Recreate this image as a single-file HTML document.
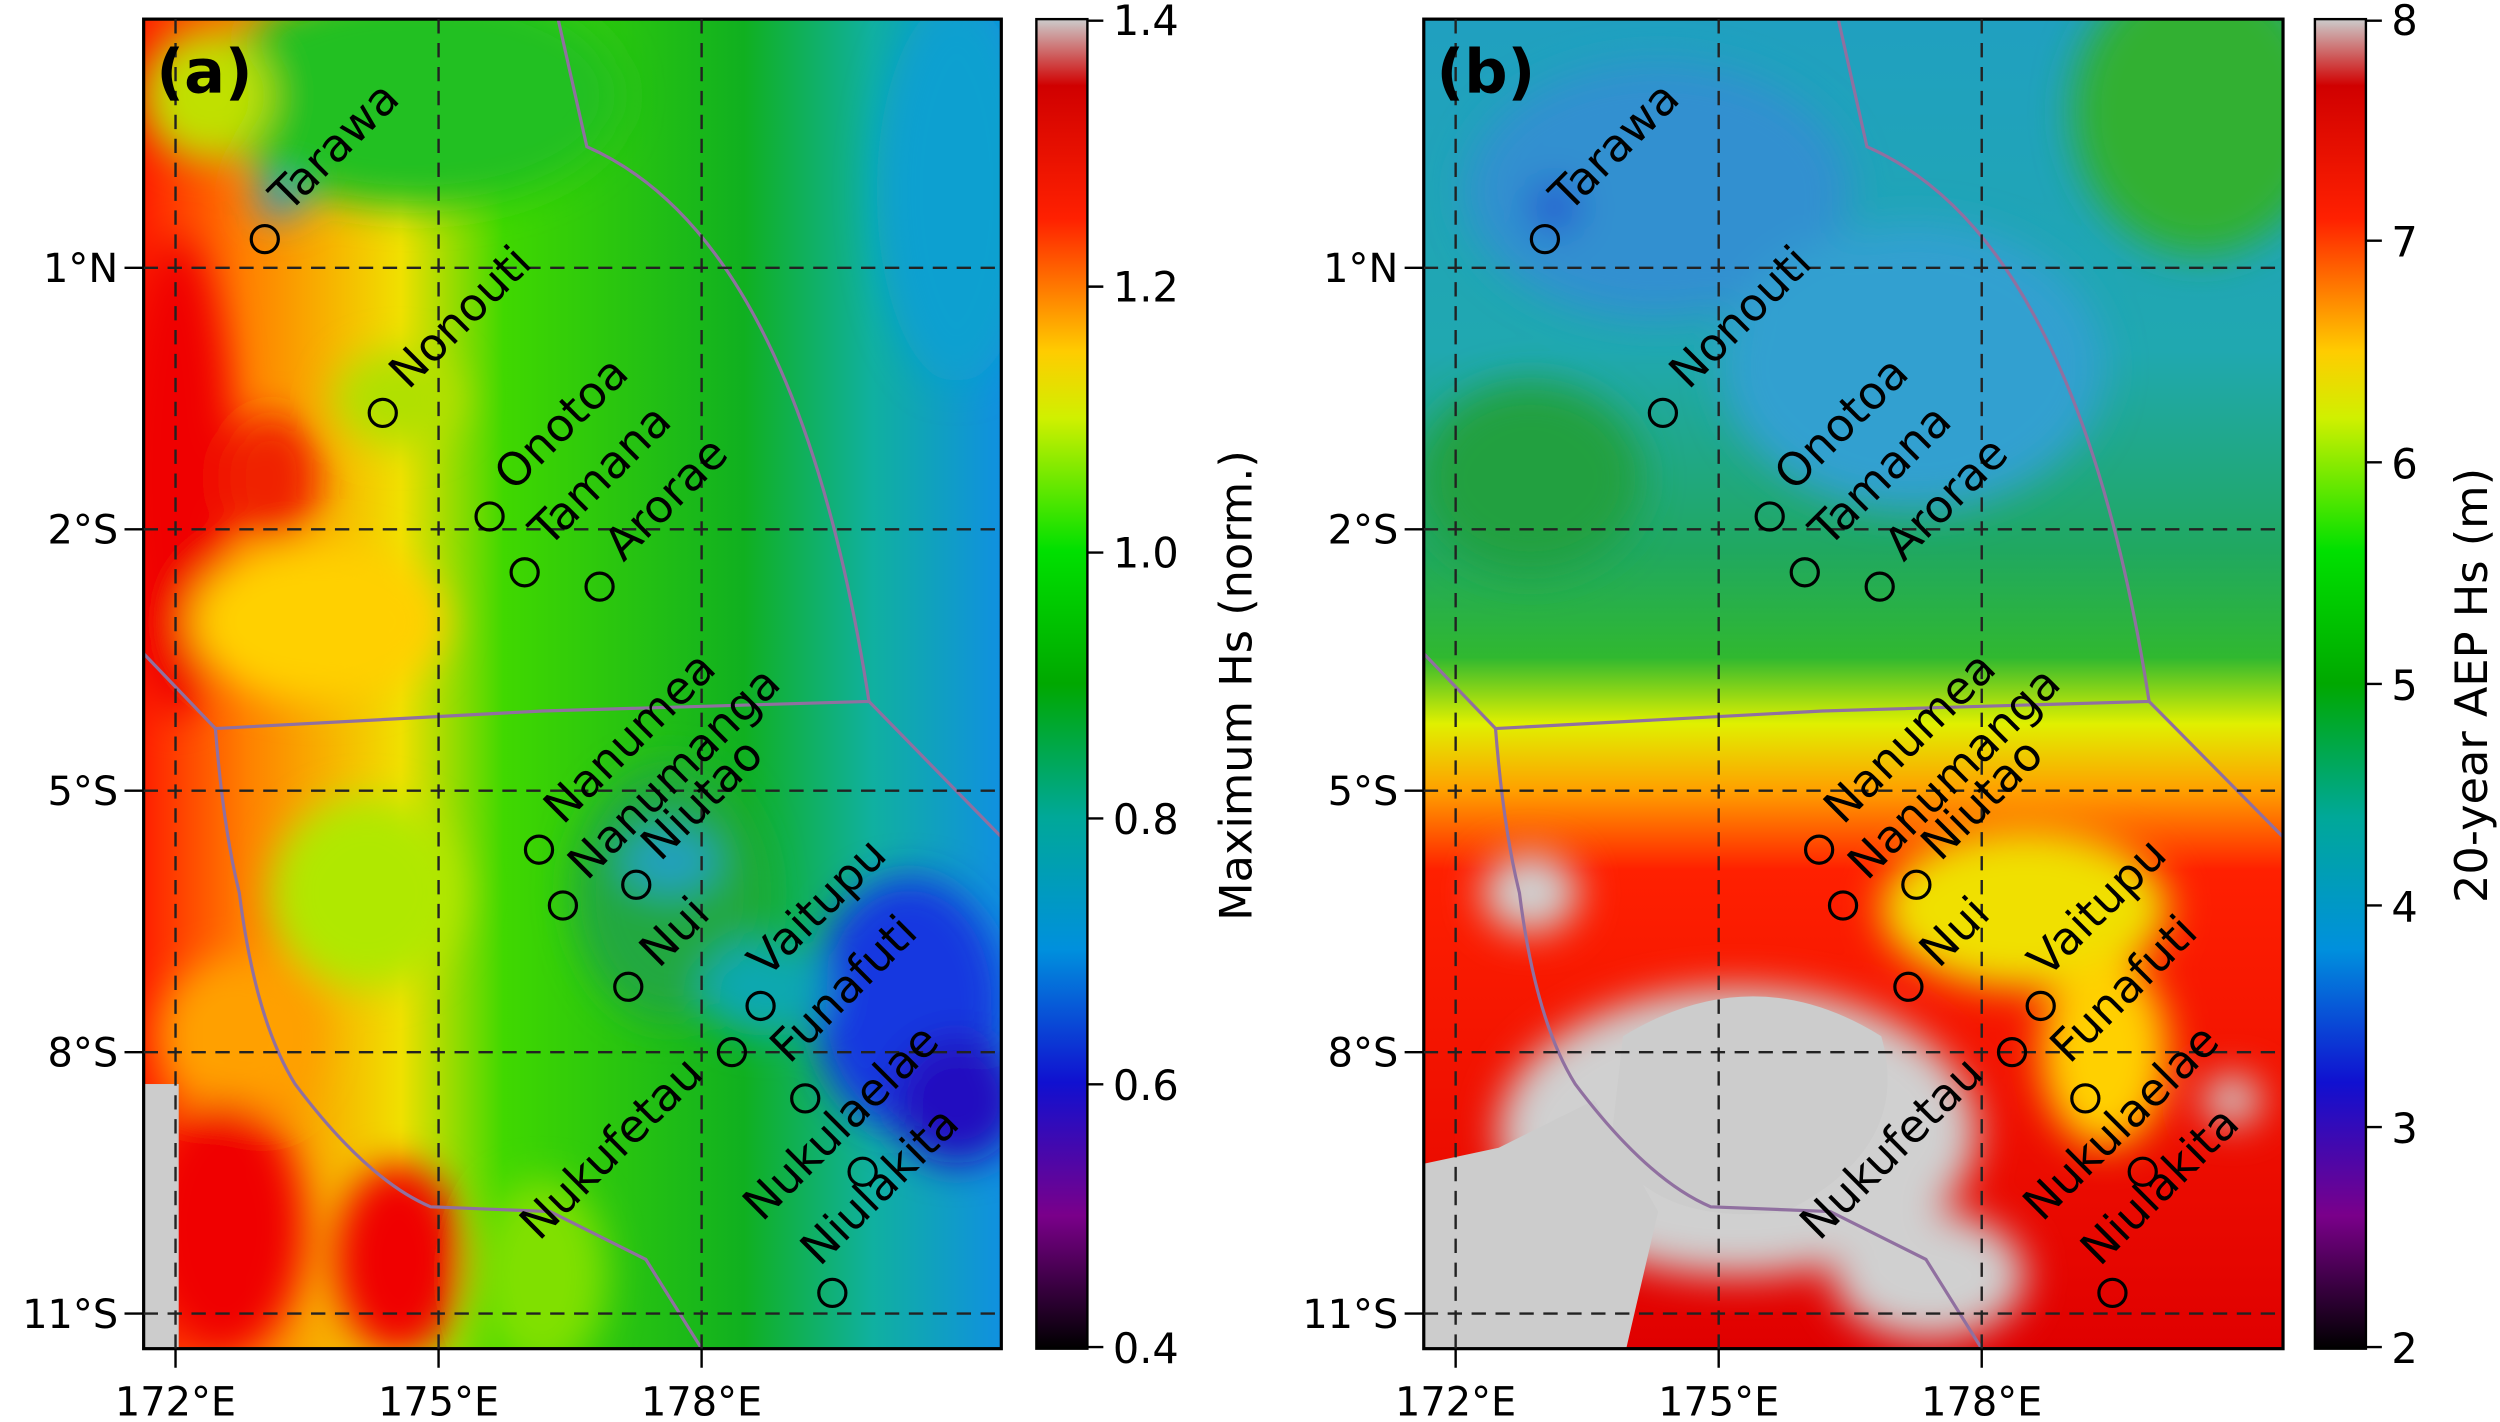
<!DOCTYPE html>
<html><head><meta charset="utf-8"><style>html,body{margin:0;padding:0;background:#fff}svg{display:block}</style></head>
<body>
<svg width="2500" height="1422" viewBox="0 0 1568 892" xmlns="http://www.w3.org/2000/svg" font-family="DejaVu Sans, Liberation Sans, sans-serif">
<defs>
<linearGradient id="cm" x1="0" y1="1" x2="0" y2="0">
<stop offset="0" stop-color="#000"/><stop offset="0.1" stop-color="#7a008a"/><stop offset="0.2" stop-color="#1010d0"/><stop offset="0.3" stop-color="#0090dd"/><stop offset="0.4" stop-color="#00a898"/><stop offset="0.5" stop-color="#00a800"/><stop offset="0.6" stop-color="#00e000"/><stop offset="0.7" stop-color="#d0f000"/><stop offset="0.75" stop-color="#ffcc00"/><stop offset="0.85" stop-color="#ff2000"/><stop offset="0.95" stop-color="#d00000"/><stop offset="1" stop-color="#cccccc"/>
</linearGradient>
<linearGradient id="ga" x1="0" y1="0" x2="1" y2="0">
<stop offset="0" stop-color="#ff2000"/><stop offset="0.12" stop-color="#ff8000"/><stop offset="0.3" stop-color="#f0e000"/><stop offset="0.42" stop-color="#40d800"/><stop offset="0.7" stop-color="#10b020"/><stop offset="0.85" stop-color="#10b0a0"/><stop offset="1" stop-color="#1090e0"/>
</linearGradient>
<linearGradient id="gb" x1="0" y1="0" x2="0" y2="1">
<stop offset="0" stop-color="#20a0c0"/><stop offset="0.25" stop-color="#20a8b0"/><stop offset="0.4" stop-color="#20a860"/><stop offset="0.48" stop-color="#30b830"/><stop offset="0.53" stop-color="#e0f000"/><stop offset="0.58" stop-color="#ffa000"/><stop offset="0.64" stop-color="#ff2000"/><stop offset="1" stop-color="#e00000"/>
</linearGradient>
<filter id="bl" x="-50%" y="-50%" width="200%" height="200%"><feGaussianBlur stdDeviation="12"/></filter>
<clipPath id="ca"><rect x="90" y="12" width="538" height="834"/></clipPath>
<clipPath id="cb"><rect x="893" y="12" width="539" height="834"/></clipPath>
</defs>

<!-- Panel a -->
<g clip-path="url(#ca)">
<rect x="90" y="12" width="538" height="834" fill="url(#ga)"/>
<g filter="url(#bl)">
<ellipse cx="260" cy="60" rx="130" ry="70" fill="#20c020"/>
<ellipse cx="130" cy="60" rx="40" ry="40" fill="#c0e000"/>
<ellipse cx="175" cy="125" rx="15" ry="12" fill="#3090d0"/>
<ellipse cx="110" cy="300" rx="35" ry="150" fill="#f00000"/>
<ellipse cx="170" cy="300" rx="30" ry="40" fill="#f02000"/>
<ellipse cx="200" cy="390" rx="80" ry="50" fill="#ffd000"/>
<ellipse cx="250" cy="250" rx="40" ry="30" fill="#b0e000"/>
<ellipse cx="230" cy="560" rx="60" ry="60" fill="#b0e800"/>
<ellipse cx="150" cy="650" rx="50" ry="50" fill="#ffa000"/>
<ellipse cx="140" cy="770" rx="50" ry="80" fill="#f00000"/>
<ellipse cx="250" cy="790" rx="40" ry="60" fill="#f00000"/>
<ellipse cx="340" cy="800" rx="40" ry="60" fill="#80e000"/>
<ellipse cx="420" cy="560" rx="60" ry="80" fill="#20a840"/>
<ellipse cx="420" cy="540" rx="30" ry="20" fill="#20a0c0"/>
<ellipse cx="570" cy="630" rx="60" ry="80" fill="#1838e0"/>
<ellipse cx="600" cy="690" rx="40" ry="40" fill="#2010c0"/>
<ellipse cx="600" cy="120" rx="50" ry="120" fill="#10a0d0"/>
<ellipse cx="480" cy="620" rx="40" ry="30" fill="#10a8b0"/>
</g>
<rect x="90" y="680" width="22" height="166" fill="#cccccc"/>
<path d="M350,12 L368,92 Q500,150 545,440 L628,525 M90,410 L135,457 L340,446 L545,440 M135,457 Q140,520 150,560 Q160,640 185,680 Q230,740 270,757 L345,760 L405,790 L440,846" fill="none" stroke="#9070a0" stroke-width="2"/>
</g>
<rect x="90" y="12" width="538" height="834" fill="none" stroke="#000" stroke-width="2"/>
<g stroke="#222" stroke-width="1.5" stroke-dasharray="9,6" fill="none">
<path d="M110,12V846M275,12V846M440,12V846M90,168H628M90,332H628M90,496H628M90,660H628M90,824H628"/>
</g>
<g stroke="#000" stroke-width="1.5"><path d="M110,846v12M275,846v12M440,846v12M78,168h12M78,332h12M78,496h12M78,660h12M78,824h12"/></g>
<text x="98" y="58" font-size="38" font-weight="bold">(a)</text>

<!-- Panel b -->
<g clip-path="url(#cb)">
<rect x="893" y="12" width="539" height="834" fill="url(#gb)"/>
<g filter="url(#bl)">
<ellipse cx="1380" cy="70" rx="80" ry="90" fill="#30b030"/>
<ellipse cx="1040" cy="120" rx="120" ry="80" fill="#3090d0"/>
<ellipse cx="975" cy="130" rx="15" ry="15" fill="#2050d0"/>
<ellipse cx="1200" cy="230" rx="120" ry="90" fill="#30a0d0"/>
<ellipse cx="960" cy="300" rx="70" ry="60" fill="#20a040"/>
<ellipse cx="1270" cy="570" rx="90" ry="50" fill="#f0e000"/>
<ellipse cx="1320" cy="660" rx="40" ry="60" fill="#ffd000"/>
<ellipse cx="1090" cy="710" rx="150" ry="90" fill="#d0d0d0"/>
<ellipse cx="960" cy="560" rx="30" ry="25" fill="#d0d0d0"/>
<ellipse cx="1210" cy="800" rx="60" ry="40" fill="#d0d0d0"/>
<ellipse cx="1400" cy="690" rx="18" ry="15" fill="#d0d0d0"/>
</g>
<path d="M893,730 L940,720 L1000,690 L1040,760 L1020,846 L893,846Z" fill="#cccccc"/>
<path d="M1018,650 Q1100,600 1180,650 Q1200,720 1120,760 Q1040,770 1010,720Z" fill="#cccccc"/>
<path d="M1153,12 L1171,92 Q1303,150 1348,440 L1432,525 M893,410 L938,457 L1143,446 L1348,440 M938,457 Q943,520 953,560 Q963,640 988,680 Q1033,740 1073,757 L1148,760 L1208,790 L1243,846" fill="none" stroke="#9070a0" stroke-width="2"/>
</g>
<rect x="893" y="12" width="539" height="834" fill="none" stroke="#000" stroke-width="2"/>
<g stroke="#222" stroke-width="1.5" stroke-dasharray="9,6" fill="none">
<path d="M913,12V846M1078,12V846M1243,12V846M893,168H1432M893,332H1432M893,496H1432M893,660H1432M893,824H1432"/>
</g>
<g stroke="#000" stroke-width="1.5"><path d="M913,846v12M1078,846v12M1243,846v12M881,168h12M881,332h12M881,496h12M881,660h12M881,824h12"/></g>
<text x="901" y="58" font-size="38" font-weight="bold">(b)</text>

<!-- axis labels -->
<g font-size="25" fill="#000">
<g text-anchor="end">
<text x="74" y="177">1°N</text><text x="74" y="341">2°S</text><text x="74" y="505">5°S</text><text x="74" y="669">8°S</text><text x="74" y="833">11°S</text>
<text x="877" y="177">1°N</text><text x="877" y="341">2°S</text><text x="877" y="505">5°S</text><text x="877" y="669">8°S</text><text x="877" y="833">11°S</text>
</g>
<g text-anchor="middle">
<text x="110" y="888">172°E</text><text x="275" y="888">175°E</text><text x="440" y="888">178°E</text>
<text x="913" y="888">172°E</text><text x="1078" y="888">175°E</text><text x="1243" y="888">178°E</text>
</g>
</g>

<!-- islands -->
<g id="isl" font-size="28.5" fill="#000">
<g fill="none" stroke="#000" stroke-width="2">
<circle cx="166" cy="150" r="8.5"/><circle cx="240" cy="259" r="8.5"/><circle cx="307" cy="324" r="8.5"/><circle cx="329" cy="359" r="8.5"/><circle cx="376" cy="368" r="8.5"/><circle cx="338" cy="533" r="8.5"/><circle cx="353" cy="568" r="8.5"/><circle cx="399" cy="555" r="8.5"/><circle cx="394" cy="619" r="8.5"/><circle cx="477" cy="631" r="8.5"/><circle cx="459" cy="660" r="8.5"/><circle cx="505" cy="689" r="8.5"/><circle cx="541" cy="735" r="8.5"/><circle cx="522" cy="811" r="8.5"/>
</g>
<text transform="translate(181,134) rotate(-45)">Tarawa</text>
<text transform="translate(256,245) rotate(-45)">Nonouti</text>
<text transform="translate(322,309) rotate(-45)">Onotoa</text>
<text transform="translate(344,344) rotate(-45)">Tamana</text>
<text transform="translate(391,353) rotate(-45)">Arorae</text>
<text transform="translate(353,518) rotate(-45)">Nanumea</text>
<text transform="translate(368,553) rotate(-45)">Nanumanga</text>
<text transform="translate(414,541) rotate(-45)">Niutao</text>
<text transform="translate(413,608) rotate(-45)">Nui</text>
<text transform="translate(481,614) rotate(-45)">Vaitupu</text>
<text transform="translate(495,668) rotate(-45)">Funafuti</text>
<text transform="translate(338,779) rotate(-45)">Nukufetau</text>
<text transform="translate(478,767) rotate(-45)">Nukulaelae</text>
<text transform="translate(514,795) rotate(-45)">Niulakita</text>
</g>
<use href="#isl" x="803" y="0"/>

<!-- colorbars -->
<rect x="650" y="12" width="32" height="834" fill="url(#cm)" stroke="#000" stroke-width="1.5"/>
<g stroke="#000" stroke-width="1.5"><path d="M682,13h10M682,179.8h10M682,346.6h10M682,513.4h10M682,680.2h10M682,845h10"/></g>
<g font-size="26"><text x="698" y="22">1.4</text><text x="698" y="189">1.2</text><text x="698" y="356">1.0</text><text x="698" y="523">0.8</text><text x="698" y="690">0.6</text><text x="698" y="855">0.4</text></g>
<text transform="translate(785,430) rotate(-90)" text-anchor="middle" font-size="28">Maximum Hs (norm.)</text>

<rect x="1452" y="12" width="32" height="834" fill="url(#cm)" stroke="#000" stroke-width="1.5"/>
<g stroke="#000" stroke-width="1.5"><path d="M1484,13h10M1484,151h10M1484,290h10M1484,429h10M1484,568h10M1484,707h10M1484,845h10"/></g>
<g font-size="26"><text x="1500" y="22">8</text><text x="1500" y="161">7</text><text x="1500" y="300">6</text><text x="1500" y="439">5</text><text x="1500" y="578">4</text><text x="1500" y="717">3</text><text x="1500" y="855">2</text></g>
<text transform="translate(1560,430) rotate(-90)" text-anchor="middle" font-size="28">20-year AEP Hs (m)</text>
</svg>
</body></html>
